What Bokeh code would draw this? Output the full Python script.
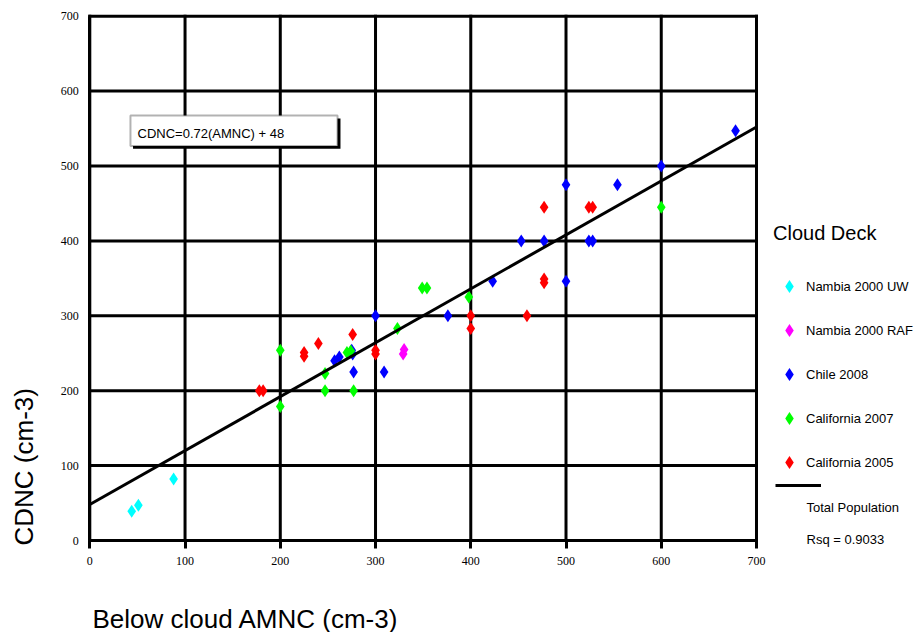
import numpy as np
from bokeh.plotting import figure
from bokeh.models import (Legend, LegendItem, Label, BoxAnnotation, FixedTicker,
                          Range1d)
from bokeh.embed import file_html
from bokeh.resources import INLINE

# ---- data ----
uw_x = [44, 51, 88]
uw_y = [39, 47, 82]

raf_x = [330, 329]
raf_y = [255, 249]

chile_x = [678, 600, 500, 554, 453, 477, 524, 528, 423, 500, 300, 376, 257, 262, 275, 276, 277, 309]
chile_y = [547, 500, 475, 475, 400, 400, 400, 400, 346, 346, 300, 300, 240, 245, 254, 249, 225, 225]

cal07_x = [600, 349, 354, 398, 323, 270, 274, 247, 247, 277, 200, 200]
cal07_y = [445, 337, 337, 325, 283, 251, 253, 223, 200, 200, 254, 179]

cal05_x = [477, 524, 528, 477, 477, 400, 400, 459, 276, 240, 225, 225, 300, 300, 178, 182]
cal05_y = [445, 445, 445, 349, 344, 300, 283, 300, 275, 263, 251, 246, 254, 249, 200, 200]

slope = 0.72
intercept = 48
fit_x = [0, 700]
fit_y = [slope * v + intercept for v in fit_x]

ticks = [0, 100, 200, 300, 400, 500, 600, 700]
series_names = ["Nambia 2000 UW", "Nambia 2000 RAF", "Chile 2008",
                "California 2007", "California 2005"]
equation = "CDNC=0.72(AMNC) + 48"
fit_name = "Total Population"
rsq_text = "Rsq = 0.9033"
x_title = "Below cloud AMNC (cm-3)"
y_title = "CDNC (cm-3)"
legend_title = "Cloud Deck"

FONT = "Liberation Sans"

# ---- figure: the frame covers the whole canvas, data box placed by the ranges ----
p = figure(width=919, height=632,
           x_range=Range1d(-93.76, 871.15), y_range=Range1d(-122.83, 720.96),
           output_backend="svg", toolbar_location=None,
           min_border_left=0, min_border_right=0,
           min_border_top=0, min_border_bottom=0)
p.background_fill_color = "white"
p.border_fill_color = "white"
p.outline_line_color = None
p.grid.visible = False

for ax in (p.xaxis, p.yaxis):
    ax.fixed_location = 0
    ax.bounds = (ticks[0], ticks[-1])
    ax.ticker = FixedTicker(ticks=ticks)
    ax.axis_line_width = 3
    ax.axis_line_color = "black"
    ax.minor_tick_line_color = None
    ax.major_label_text_font = "Liberation Serif"
    ax.major_label_text_font_size = "12px"
    ax.major_label_text_color = "black"

p.xaxis.major_tick_out = 8
p.xaxis.major_tick_in = 0
p.xaxis.major_tick_line_width = 3
p.xaxis.major_tick_line_color = "black"
p.xaxis.major_label_standoff = 8
p.yaxis.major_tick_out = 0
p.yaxis.major_tick_in = 0
p.yaxis.major_tick_line_color = None
p.yaxis.major_label_standoff = 11

# grid box drawn from the tick values
n = len(ticks)
p.segment(x0=ticks, y0=[ticks[0]] * n, x1=ticks, y1=[ticks[-1]] * n,
          line_color="black", line_width=3, line_cap="square")
p.segment(x0=[ticks[0]] * n, y0=ticks, x1=[ticks[-1]] * n, y1=ticks,
          line_color="black", line_width=3, line_cap="square")

mk = dict(marker="diamond", size=13, line_color=None)
r_uw = p.scatter(uw_x, uw_y, fill_color="#00FFFF", **mk)
r_raf = p.scatter(raf_x, raf_y, fill_color="#FF00FF", **mk)
r_ch = p.scatter(chile_x, chile_y, fill_color="#0000FF", **mk)
r_07 = p.scatter(cal07_x, cal07_y, fill_color="#00FF00", **mk)
r_05 = p.scatter(cal05_x, cal05_y, fill_color="#FF0000", **mk)
r_fit = p.line(fit_x, fit_y, line_color="black", line_width=3)

# equation box with drop shadow
p.add_layout(BoxAnnotation(left=45.4, right=263.2, top=563.4, bottom=523.0,
                           fill_color="black", fill_alpha=1, line_color=None))
p.add_layout(BoxAnnotation(left=42.7, right=260.1, top=567.4, bottom=526.7,
                           fill_color="white", fill_alpha=1,
                           line_color="black", line_width=2))
p.add_layout(Label(x=50.1, y=543.0, text=equation, text_baseline="middle",
                   text_font=FONT, text_font_size="13px", text_color="black"))

# axis titles
p.add_layout(Label(x=92, y=29, x_units="screen", y_units="screen",
                   text=x_title, text_baseline="top",
                   text_font=FONT, text_font_size="26px", text_color="black"))
p.add_layout(Label(x=8.5, y=87, x_units="screen", y_units="screen",
                   text=y_title, angle=np.pi / 2, text_baseline="top",
                   text_align="left",
                   text_font=FONT, text_font_size="26px", text_color="black"))

# legend
legend = Legend(items=[
    LegendItem(label=series_names[0], renderers=[r_uw]),
    LegendItem(label=series_names[1], renderers=[r_raf]),
    LegendItem(label=series_names[2], renderers=[r_ch]),
    LegendItem(label=series_names[3], renderers=[r_07]),
    LegendItem(label=series_names[4], renderers=[r_05]),
], location=(773, 154))
legend.title = legend_title
legend.title_text_font = FONT
legend.title_text_font_size = "20px"
legend.title_text_font_style = "normal"
legend.title_text_color = "black"
legend.title_standoff = 25
legend.label_text_font = FONT
legend.label_text_font_size = "13px"
legend.label_text_color = "black"
legend.glyph_width = 32
legend.glyph_height = 32
legend.label_height = 32
legend.label_standoff = 1
legend.spacing = 12
legend.padding = 0
legend.margin = 0
legend.border_line_alpha = 0
legend.background_fill_alpha = 0
p.add_layout(legend)

legend2 = Legend(items=[LegendItem(label=" ", renderers=[r_fit])],
                 location=(775, 142))
legend2.glyph_width = 46
legend2.glyph_height = 10
legend2.label_height = 10
legend2.label_width = 0
legend2.label_standoff = 0
legend2.label_text_font_size = "10px"
legend2.padding = 0
legend2.margin = 0
legend2.border_line_alpha = 0
legend2.background_fill_alpha = 0
p.add_layout(legend2)

p.add_layout(Label(x=806, y=125, x_units="screen", y_units="screen",
                   text=fit_name, text_baseline="middle",
                   text_font=FONT, text_font_size="13px", text_color="black"))
p.add_layout(Label(x=806, y=93, x_units="screen", y_units="screen",
                   text=rsq_text, text_baseline="middle",
                   text_font=FONT, text_font_size="13px", text_color="black"))

open("out.html", "w").write(file_html(p, INLINE))
